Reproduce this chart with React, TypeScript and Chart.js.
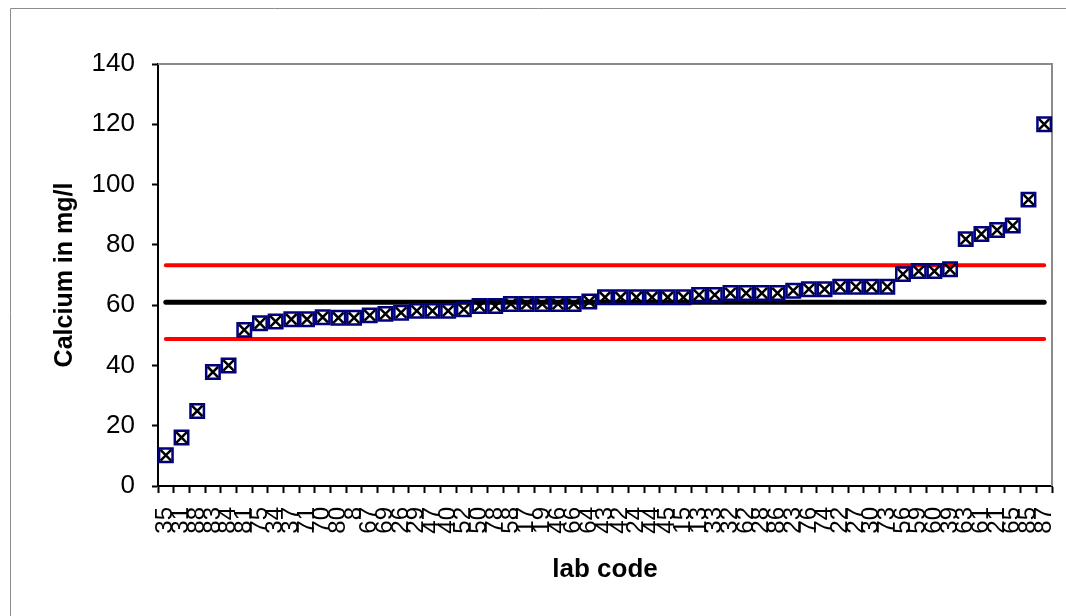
import React, { useEffect, useRef } from 'react';
import { Chart, registerables } from 'chart.js';

Chart.register(...registerables);

// ---- data ----
const labCodes: string[] = [
  '35', '31', '88', '83', '84', '81', '75', '34', '37', '71',
  '70', '80', '8', '67', '69', '26', '29', '47', '40', '52',
  '50', '78', '58', '17', '19', '46', '66', '64', '43', '42',
  '24', '44', '45', '15', '13', '33', '32', '62', '28', '86',
  '23', '76', '74', '22', '27', '30', '73', '56', '59', '60',
  '39', '63', '61', '21', '65', '85', '87',
];

const calcium: number[] = [
  10.2, 16.1, 24.9, 37.8, 40.0, 51.8, 54.0, 54.6, 55.3, 55.3,
  56.0, 55.8, 55.8, 56.6, 57.1, 57.5, 58.1, 58.1, 58.1, 58.6,
  59.7, 59.7, 60.4, 60.4, 60.4, 60.4, 60.4, 61.2, 62.6, 62.6,
  62.6, 62.6, 62.6, 62.6, 63.4, 63.4, 64.0, 64.0, 64.0, 64.0,
  64.8, 65.3, 65.3, 66.1, 66.1, 66.1, 66.1, 70.3, 71.3, 71.3,
  71.9, 81.9, 83.6, 84.9, 86.4, 95.0, 120.0,
];

const assignedValue = 61;
const upperLimit = 73.2;
const lowerLimit = 48.8;

const yMin = 0;
const yMax = 140;
const yStep = 20;

const yTitle = 'Calcium in mg/l';
const xTitle = 'lab code';

const FONT = "'Liberation Sans', Arial, Helvetica, sans-serif";

const CANVAS_W = 1066;
const CANVAS_H = 616;

const framePlugin = {
  id: 'frame',
  beforeDraw(chart: any) {
    const { ctx, width, height } = chart;
    ctx.save();
    ctx.fillStyle = '#ffffff';
    ctx.fillRect(0, 0, width, height);
    ctx.strokeStyle = '#8c8c8c';
    ctx.lineWidth = 1;
    ctx.beginPath();
    ctx.moveTo(10.5, height);
    ctx.lineTo(10.5, 8.5);
    ctx.lineTo(width, 8.5);
    ctx.stroke();
    ctx.restore();
  },
  beforeDatasetsDraw(chart: any) {
    const { ctx, chartArea } = chart;
    ctx.save();
    ctx.strokeStyle = '#8a8a8a';
    ctx.lineWidth = 2;
    ctx.beginPath();
    ctx.moveTo(chartArea.left, chartArea.top);
    ctx.lineTo(chartArea.right, chartArea.top);
    ctx.lineTo(chartArea.right, chartArea.bottom);
    ctx.stroke();
    ctx.restore();
  },
};

function hLine(value: number) {
  return [
    { x: labCodes[0], y: value },
    { x: labCodes[labCodes.length - 1], y: value },
  ];
}

export default function App() {
  const ref = useRef<HTMLCanvasElement | null>(null);

  useEffect(() => {
    if (!ref.current) return;
    const chart = new Chart(ref.current, {
      type: 'line',
      data: {
        labels: labCodes,
        datasets: [
          {
            label: 'cross',
            data: calcium,
            showLine: false,
            pointStyle: 'crossRot',
            pointRadius: 7.5,
            pointBorderColor: '#000000',
            pointBackgroundColor: 'rgba(0,0,0,0)',
            pointBorderWidth: 2.5,
            borderColor: '#000000',
          },
          {
            label: 'box',
            data: calcium,
            showLine: false,
            pointStyle: 'rect',
            pointRadius: 9.5,
            pointBorderColor: '#000080',
            pointBackgroundColor: 'rgba(0,0,0,0)',
            pointBorderWidth: 2.5,
            borderColor: '#000080',
          },
          {
            label: 'assigned',
            data: hLine(assignedValue) as any,
            borderColor: '#000000',
            borderWidth: 5,
            borderCapStyle: 'round',
            pointRadius: 0,
          },
          {
            label: 'upper',
            data: hLine(upperLimit) as any,
            borderColor: '#ff0000',
            borderWidth: 4,
            borderCapStyle: 'round',
            pointRadius: 0,
          },
          {
            label: 'lower',
            data: hLine(lowerLimit) as any,
            borderColor: '#ff0000',
            borderWidth: 4,
            borderCapStyle: 'round',
            pointRadius: 0,
          },
        ],
      },
      options: {
        responsive: false,
        animation: false,
        devicePixelRatio: 1,
        layout: { padding: { left: 0, top: 64, right: 14, bottom: 0 } },
        plugins: {
          legend: { display: false },
          tooltip: { enabled: false },
          title: { display: false },
        },
        scales: {
          x: {
            type: 'category',
            offset: true,
            afterFit(scale: any) {
              scale.height = 130;
              scale.paddingLeft = 0;
              scale.paddingRight = 0;
            },
            grid: {
              offset: true,
              drawOnChartArea: false,
              drawTicks: true,
              tickLength: 7,
              tickWidth: 2,
              tickColor: '#000000',
            },
            border: { display: true, color: '#000000', width: 2 },
            ticks: {
              autoSkip: false,
              minRotation: 90,
              maxRotation: 90,
              padding: 14,
              color: '#000000',
              font: { family: FONT, size: 24 },
            },
            title: {
              display: true,
              text: xTitle,
              color: '#000000',
              font: { family: FONT, size: 26, weight: 'bold' },
              padding: { top: 0, bottom: 31 },
            },
          },
          y: {
            min: yMin,
            max: yMax,
            afterFit(scale: any) {
              scale.width = 158;
            },
            grid: {
              drawOnChartArea: false,
              drawTicks: true,
              tickLength: 6,
              tickWidth: 2,
              tickColor: '#000000',
            },
            border: { display: true, color: '#000000', width: 2 },
            ticks: {
              stepSize: yStep,
              padding: 17,
              color: '#000000',
              font: { family: FONT, size: 26 },
            },
            title: {
              display: true,
              text: yTitle,
              color: '#000000',
              font: { family: FONT, size: 25, weight: 'bold' },
              padding: { top: 50, bottom: 0 },
            },
          },
        },
      },
      plugins: [framePlugin],
    } as any);
    return () => chart.destroy();
  }, []);

  return (
    <div style={{ position: 'fixed', left: 0, top: 0, width: CANVAS_W, height: CANVAS_H }}>
      <canvas
        ref={ref}
        width={CANVAS_W}
        height={CANVAS_H}
        style={{ display: 'block', width: CANVAS_W, height: CANVAS_H }}
      />
    </div>
  );
}
